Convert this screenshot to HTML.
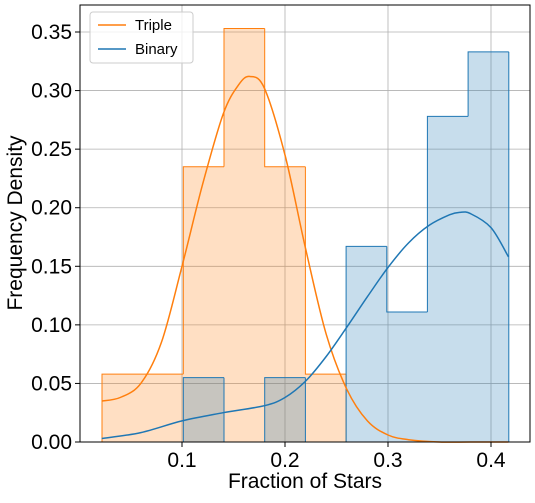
<!DOCTYPE html>
<html><head><meta charset="utf-8"><style>
body{margin:0;background:#fff;font-family:"Liberation Sans",sans-serif;}
svg text{font-family:"Liberation Sans",sans-serif;}
</style></head><body>
<svg id="chart" width="535" height="498" xmlns="http://www.w3.org/2000/svg">
<g id="grid"></g>
<g id="bars"></g>
<g id="lines"></g>
<rect x="80" y="5" width="450" height="437" fill="none" stroke="#000" stroke-width="1"/>
<g id="ticks"></g>
<text x="305" y="488" font-size="21" text-anchor="middle">Fraction of Stars</text>
<text transform="translate(22,223) rotate(-90)" font-size="21" text-anchor="middle">Frequency Density</text>
<g>
<rect x="90" y="12" width="103" height="51" rx="3" fill="#fff" fill-opacity="0.8" stroke="#ccc"/>
<line x1="98" y1="25" x2="126" y2="25" stroke="#ff7f0e" stroke-width="1.5"/>
<text x="135" y="30" font-size="15">Triple</text>
<line x1="98" y1="49" x2="126" y2="49" stroke="#1f77b4" stroke-width="1.5"/>
<text x="135" y="54" font-size="15">Binary</text>
</g>
</svg>
<script>
const binStart = 0.0223;
const binWidth = 0.0395;
const tripleHeights = [0.058,0.058,0.235,0.353,0.235,0.058,0,0,0,0];
const binaryHeights = [0,0,0.055,0,0.055,0,0.167,0.111,0.278,0.333];
const tripleKdeX = [0.022,0.04,0.06,0.08,0.10,0.12,0.14,0.155,0.166,0.18,0.20,0.22,0.24,0.26,0.28,0.30,0.32,0.35,0.38,0.417];
const tripleKdeY = [0.035,0.038,0.05,0.085,0.15,0.22,0.28,0.305,0.312,0.302,0.245,0.165,0.092,0.045,0.018,0.006,0.002,0,0,0];
const binaryKdeX = [0.022,0.06,0.10,0.14,0.18,0.20,0.22,0.24,0.26,0.28,0.30,0.32,0.34,0.36,0.37,0.38,0.40,0.417];
const binaryKdeY = [0.003,0.008,0.018,0.025,0.031,0.038,0.052,0.073,0.098,0.124,0.149,0.17,0.185,0.194,0.196,0.195,0.183,0.158];
const xTicks = [0.1,0.2,0.3,0.4];
const xTickLabels = ["0.1","0.2","0.3","0.4"];
const yTicks = [0,0.05,0.1,0.15,0.2,0.25,0.3,0.35];
const yTickLabels = ["0.00","0.05","0.10","0.15","0.20","0.25","0.30","0.35"];

const NS="http://www.w3.org/2000/svg";
const X=v=>79+v*1030;
const Y=v=>442-v*1171.4;
function mk(tag,parent,attrs){const e=document.createElementNS(NS,tag);for(const k in attrs)e.setAttribute(k,attrs[k]);document.getElementById(parent).appendChild(e);return e;}

xTicks.forEach((t,i)=>{
  const g=mk('line','grid',{x1:X(t),x2:X(t),y1:5,y2:442,stroke:'#b0b0b0','stroke-width':0.8});
  
  
  const tk=mk('line','ticks',{x1:X(t),x2:X(t),y1:442,y2:447,stroke:'#000'});
  
  
  const tx=mk('text','ticks',{x:X(t),y:467,'font-size':21,'text-anchor':'middle'});
  tx.textContent=xTickLabels[i];
  
  
});
yTicks.forEach((t,i)=>{
  const g=mk('line','grid',{x1:80,x2:530,y1:Y(t),y2:Y(t),stroke:'#b0b0b0','stroke-width':0.8});
  
  
  const tk=mk('line','ticks',{x1:75,x2:80,y1:Y(t),y2:Y(t),stroke:'#000'});
  
  
  const tx=mk('text','ticks',{x:72,y:Y(t)+7,'font-size':21,'text-anchor':'end'});
  tx.textContent=yTickLabels[i];
  
  
});
function bars(h,color,name){
  let d='M'+X(binStart)+','+Y(0);
  h.forEach((v,i)=>{
    const x0=X(binStart+i*binWidth),x1=X(binStart+(i+1)*binWidth);
    d+=' L'+x0.toFixed(1)+','+Y(v).toFixed(1)+' L'+x1.toFixed(1)+','+Y(v).toFixed(1);
  });
  d+=' L'+X(binStart+h.length*binWidth).toFixed(1)+','+Y(0)+' Z';
  const p=mk('path','bars',{d:d,fill:color,'fill-opacity':0.25,stroke:'none'});
  
  
  let o='';
  h.forEach((v,i)=>{
    const x0=X(binStart+i*binWidth),x1=X(binStart+(i+1)*binWidth);
    const prev=i>0?h[i-1]:0;
    o+=' M'+x0.toFixed(1)+','+Y(prev).toFixed(1)+' L'+x0.toFixed(1)+','+Y(v).toFixed(1);
    if(v>0) o+=' L'+x1.toFixed(1)+','+Y(v).toFixed(1);
  });
  const last=h[h.length-1],xe=X(binStart+h.length*binWidth);
  o+=' M'+xe.toFixed(1)+','+Y(last).toFixed(1)+' L'+xe.toFixed(1)+','+Y(0);
  const q=mk('path','bars',{d:o,fill:'none',stroke:color,'stroke-width':1});
  
  
}
bars(tripleHeights,'#ff7f0e','triple');
bars(binaryHeights,'#1f77b4','binary');
function line(xs,ys,color,name){
  const P=xs.map((x,i)=>[X(x),Y(ys[i])]);
  let d='M'+P[0][0].toFixed(1)+','+P[0][1].toFixed(1);
  for(let i=0;i<P.length-1;i++){
    const p0=P[Math.max(0,i-1)],p1=P[i],p2=P[i+1],p3=P[Math.min(P.length-1,i+2)];
    const c1=[p1[0]+(p2[0]-p0[0])/6,p1[1]+(p2[1]-p0[1])/6];
    const c2=[p2[0]-(p3[0]-p1[0])/6,p2[1]-(p3[1]-p1[1])/6];
    d+=' C'+c1.map(v=>v.toFixed(1)).join(',')+' '+c2.map(v=>v.toFixed(1)).join(',')+' '+p2.map(v=>v.toFixed(1)).join(',');
  }
  const p=mk('path','lines',{d:d,fill:'none',stroke:color,'stroke-width':1.5,'stroke-linejoin':'round'});
  
  
}
line(tripleKdeX,tripleKdeY,'#ff7f0e','triple');
line(binaryKdeX,binaryKdeY,'#1f77b4','binary');
</script>
</body></html>
